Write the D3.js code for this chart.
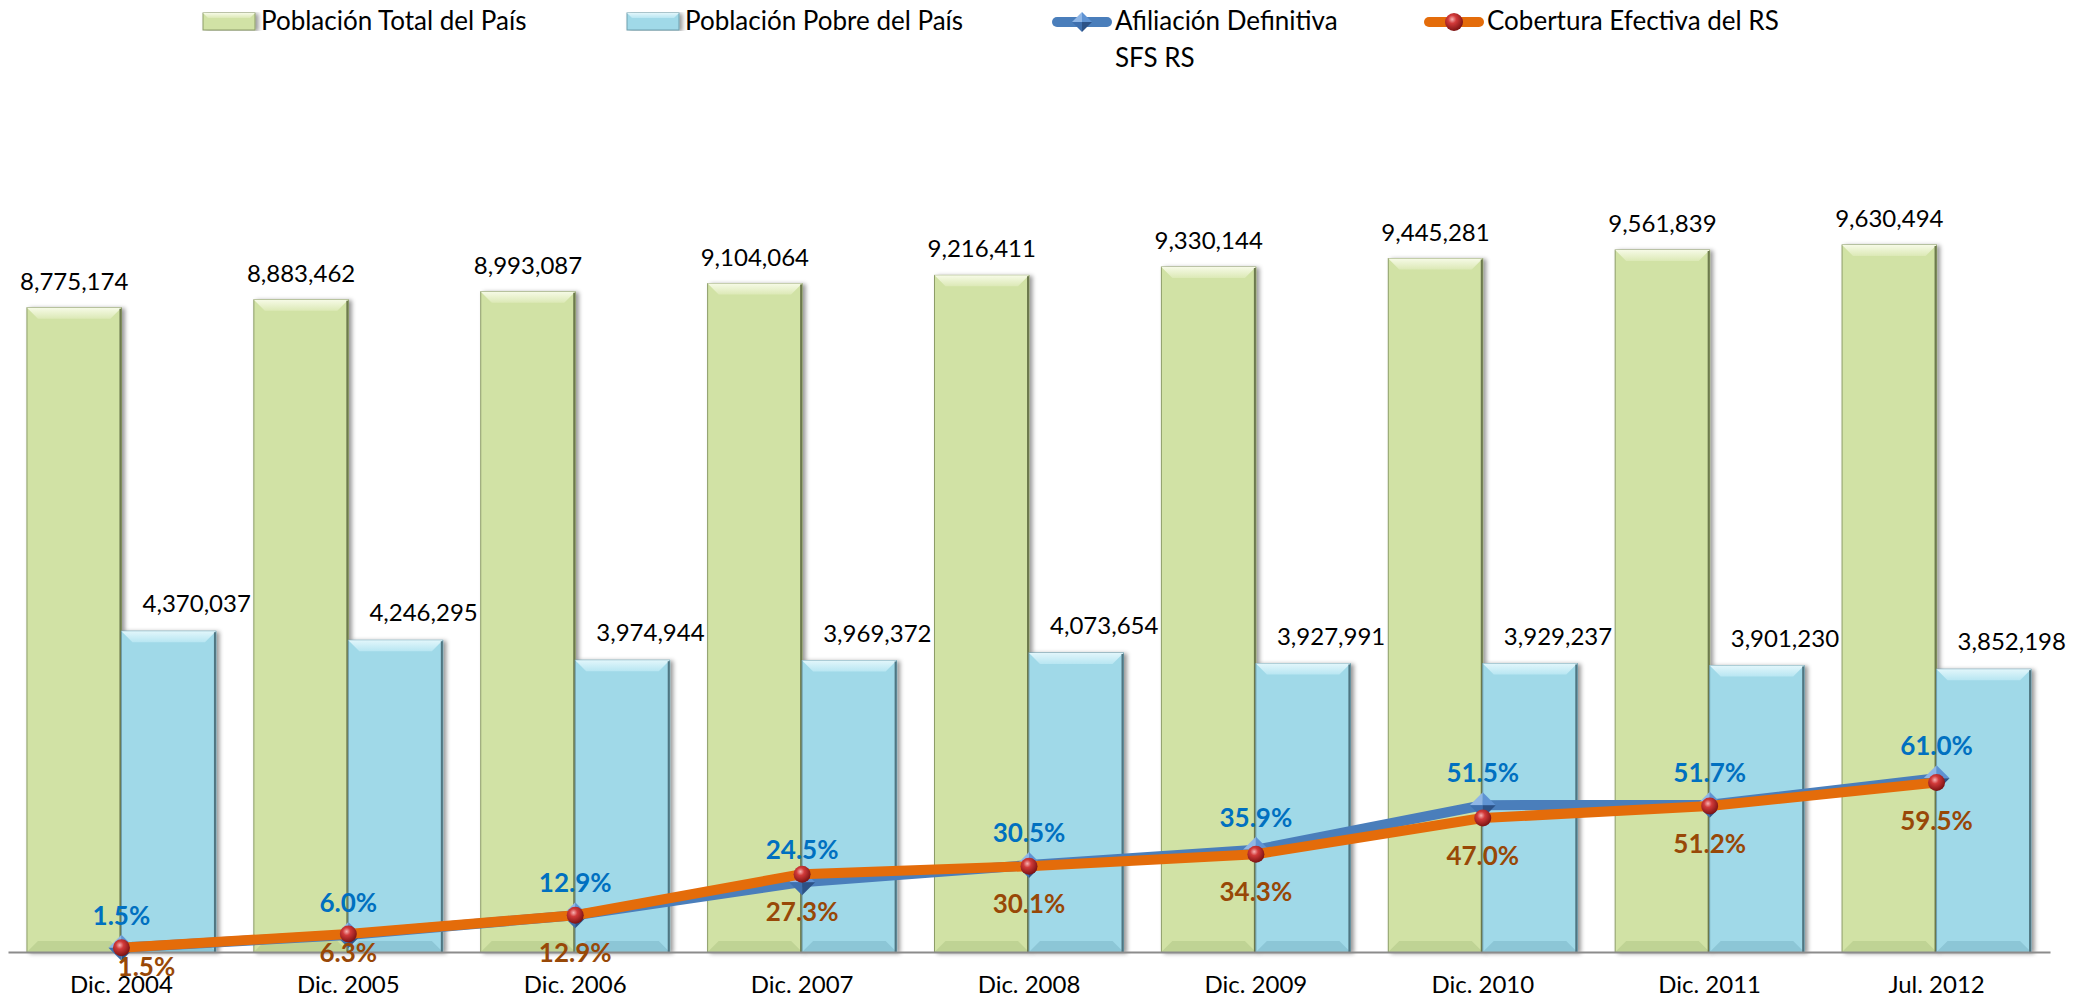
<!DOCTYPE html>
<meta charset="utf-8">
<style>
body { margin: 0; background: #fff; }
text { font-family: Lato, "Open Sans", sans-serif; }
.bar-label { font-size: 24px; fill: #000; }
.pct-label { font-size: 26px; font-weight: bold; }
.legend text { font-size: 26px; fill: #000; }
.x.axis text { font-size: 24px; fill: #000; }
.x.axis path { stroke: #8c8c8c; stroke-width: 2px; }
</style>
<body>
<script src="https://d3js.org/d3.v7.min.js"></script>
<script>

// data
var categories = ["Dic. 2004", "Dic. 2005", "Dic. 2006", "Dic. 2007", "Dic. 2008",
                  "Dic. 2009", "Dic. 2010", "Dic. 2011", "Jul. 2012"];
var poblacionTotal = [8775174, 8883462, 8993087, 9104064, 9216411, 9330144, 9445281, 9561839, 9630494];
var poblacionPobre = [4370037, 4246295, 3974944, 3969372, 4073654, 3927991, 3929237, 3901230, 3852198];
var afiliacion = [1.5, 6.0, 12.9, 24.5, 30.5, 35.9, 51.5, 51.7, 61.0];
var cobertura = [1.5, 6.3, 12.9, 27.3, 30.1, 34.3, 47.0, 51.2, 59.5];
var seriesNames = ["Población Total del País", "Población Pobre del País",
                   "Afiliación Definitiva SFS RS", "Cobertura Efectiva del RS"];

var width = 2085, height = 1003;
var baseY = 952;

var data = categories.map(function(c, i) {
  return {cat: c, total: poblacionTotal[i], pobre: poblacionPobre[i],
          afil: afiliacion[i], cob: cobertura[i]};
});

var x = d3.scaleBand().domain(categories).range([8, 2050])
    .paddingInner(0.167).paddingOuter(0.0835);
var x1 = d3.scaleBand().domain(["total", "pobre"]).range([0, x.bandwidth()]);
var y = d3.scaleLinear().domain([0, 12000000]).range([baseY, 71]);
var yPct = d3.scaleLinear().domain([0, 100]).range([baseY, 667]);
var fmt = d3.format(",");

var svg = d3.select("body").append("svg")
    .attr("width", width)
    .attr("height", height);

var defs = svg.append("defs");
var shadow = defs.append("filter").attr("id", "shadow")
    .attr("x", "-20%").attr("y", "-5%").attr("width", "140%").attr("height", "110%");
shadow.append("feDropShadow").attr("dx", 3).attr("dy", 1)
    .attr("stdDeviation", 2).attr("flood-color", "#000").attr("flood-opacity", 0.4);

function vGrad(id, stops) {
  var g = defs.append("linearGradient").attr("id", id)
      .attr("x1", 0).attr("y1", 0).attr("x2", 0).attr("y2", 1);
  stops.forEach(function(s) { g.append("stop").attr("offset", s[0]).attr("stop-color", s[1]); });
}
vGrad("topG", [[0, "#f6fae6"], [1, "#dce9b6"]]);
vGrad("topB", [[0, "#e2f6fb"], [1, "#b8e6f2"]]);

var barStyle = {
  total: {base: "#d1e2a5", top: "url(#topG)", bottom: "#bfd394", edge: "#8d9d68", right: "#6d7a4d"},
  pobre: {base: "#a0d9e8", top: "url(#topB)", bottom: "#8cc6d6", edge: "#6f9fae", right: "#4f7682"}
};

// sphere marker gradient
var sph = defs.append("radialGradient").attr("id", "sphere")
    .attr("cx", "40%").attr("cy", "35%").attr("r", "65%");
sph.append("stop").attr("offset", 0).attr("stop-color", "#f6b3b3");
sph.append("stop").attr("offset", 0.35).attr("stop-color", "#d23a3a");
sph.append("stop").attr("offset", 1).attr("stop-color", "#7d1313");

// bars
var groups = svg.selectAll(".grp")
    .data(data)
  .enter().append("g")
    .attr("class", "grp")
    .attr("transform", function(d) { return "translate(" + x(d.cat) + ",0)"; });

var b = 11;
["total", "pobre"].forEach(function(key) {
  var st = barStyle[key];
  var bar = groups.append("g").attr("filter", "url(#shadow)");
  bar.append("rect")
      .attr("x", x1(key))
      .attr("y", function(d) { return y(d[key]); })
      .attr("width", x1.bandwidth())
      .attr("height", function(d) { return baseY - y(d[key]); })
      .attr("fill", st.base)
      .attr("stroke", st.edge)
      .attr("stroke-width", 1);
  bar.append("polygon")
      .attr("fill", st.top)
      .attr("points", function(d) {
        var x0 = x1(key), xe = x0 + x1.bandwidth(), t = y(d[key]);
        return [[x0, t], [xe, t], [xe - b, t + b], [x0 + b, t + b]].join(" ");
      });
  bar.append("polygon")
      .attr("fill", st.bottom)
      .attr("points", function(d) {
        var x0 = x1(key), xe = x0 + x1.bandwidth();
        return [[x0, baseY], [xe, baseY], [xe - b, baseY - b], [x0 + b, baseY - b]].join(" ");
      });
  bar.append("line")
      .attr("x1", x1(key) + x1.bandwidth() - 1)
      .attr("x2", x1(key) + x1.bandwidth() - 1)
      .attr("y1", function(d) { return y(d[key]) + 1; })
      .attr("y2", baseY)
      .attr("stroke", st.right)
      .attr("stroke-width", 2);
});

// bar value labels
groups.append("text")
    .attr("class", "bar-label")
    .attr("text-anchor", "middle")
    .attr("x", x1("total") + x1.bandwidth() / 2)
    .attr("y", function(d) { return y(d.total) - 18; })
    .text(function(d) { return fmt(d.total); });
groups.append("text")
    .attr("class", "bar-label")
    .attr("text-anchor", "middle")
    .attr("x", x1("pobre") + x1.bandwidth() / 2 + 28)
    .attr("y", function(d) { return y(d.pobre) - 19; })
    .text(function(d) { return fmt(d.pobre); });

// x axis
var xAxis = d3.axisBottom(x).tickSize(0).tickSizeOuter(0).tickPadding(24);
svg.append("g")
    .attr("class", "x axis")
    .attr("transform", "translate(0," + baseY + ")")
    .call(xAxis);

// lines
var cx = function(d) { return x(d.cat) + x.bandwidth() / 2; };
var lineAfil = d3.line().x(cx).y(function(d) { return yPct(d.afil); });
var lineCob = d3.line().x(cx).y(function(d) { return yPct(d.cob); });

svg.append("path").datum(data)
    .attr("d", lineAfil)
    .attr("fill", "none")
    .attr("stroke", "#4a7ebb")
    .attr("stroke-width", 10)
    .attr("stroke-linejoin", "round");

function diamond(sel, s) {
  var facets = [
    {pts: [[0, -s], [-s, 0], [0, 0]], fill: "#8fb6e6"},
    {pts: [[0, -s], [s, 0], [0, 0]], fill: "#5f93d3"},
    {pts: [[-s, 0], [0, s], [0, 0]], fill: "#3e6fae"},
    {pts: [[s, 0], [0, s], [0, 0]], fill: "#2c5287"}
  ];
  facets.forEach(function(f) {
    sel.append("polygon").attr("points", f.pts.join(" ")).attr("fill", f.fill);
  });
}

var diamonds = svg.selectAll(".dia")
    .data(data)
  .enter().append("g")
    .attr("class", "dia")
    .attr("transform", function(d) { return "translate(" + cx(d) + "," + yPct(d.afil) + ")"; });
diamond(diamonds, 13);

svg.append("path").datum(data)
    .attr("d", lineCob)
    .attr("fill", "none")
    .attr("stroke", "#e46c0a")
    .attr("stroke-width", 10)
    .attr("stroke-linejoin", "round");

svg.selectAll(".sph")
    .data(data)
  .enter().append("circle")
    .attr("class", "sph")
    .attr("cx", cx)
    .attr("cy", function(d) { return yPct(d.cob); })
    .attr("r", 8.5)
    .attr("fill", "url(#sphere)");

// percent labels
svg.selectAll(".lab-afil")
    .data(data)
  .enter().append("text")
    .attr("class", "pct-label")
    .attr("text-anchor", "middle")
    .attr("fill", "#0070c0")
    .attr("x", cx)
    .attr("y", function(d) { return yPct(d.afil) - 32; })
    .attr("dy", "0.35em")
    .text(function(d) { return d.afil.toFixed(1) + "%"; });

// labels close to the axis sit a bit higher, like in the original
svg.selectAll(".lab-cob")
    .data(data)
  .enter().append("text")
    .attr("class", "pct-label")
    .attr("text-anchor", "middle")
    .attr("fill", "#984807")
    .attr("x", function(d, i) { return cx(d) + (i === 0 ? 25 : 0); })
    .attr("y", function(d) {
      var py = yPct(d.cob);
      return py + (baseY - py < 25 ? 19 : 38);
    })
    .attr("dy", "0.35em")
    .text(function(d) { return d.cob.toFixed(1) + "%"; });

// legend
var legend = svg.append("g").attr("class", "legend");

function legendRect(x0, st, name) {
  var g = legend.append("g").attr("filter", "url(#shadow)");
  g.append("rect").attr("x", x0).attr("y", 13).attr("width", 52).attr("height", 17)
      .attr("fill", st.base).attr("stroke", st.edge);
  g.append("polygon").attr("fill", st.top)
      .attr("points", [[x0, 13], [x0 + 52, 13], [x0 + 47, 18], [x0 + 5, 18]].join(" "));
  legend.append("text").attr("x", x0 + 58).attr("y", 30).text(name);
}
legendRect(203, barStyle.total, seriesNames[0]);
legendRect(627, barStyle.pobre, seriesNames[1]);

legend.append("line").attr("x1", 1057).attr("x2", 1107).attr("y1", 22).attr("y2", 22)
    .attr("stroke", "#4a7ebb").attr("stroke-width", 10).attr("stroke-linecap", "round");
var ld = legend.append("g").attr("transform", "translate(1082,22)");
diamond(ld, 10);
var t3 = legend.append("text").attr("x", 1115).attr("y", 30);
t3.append("tspan").text("Afiliación Definitiva");
t3.append("tspan").attr("x", 1115).attr("y", 67).text("SFS RS");

legend.append("line").attr("x1", 1429).attr("x2", 1479).attr("y1", 22).attr("y2", 22)
    .attr("stroke", "#e46c0a").attr("stroke-width", 10).attr("stroke-linecap", "round");
legend.append("circle").attr("cx", 1454).attr("cy", 22).attr("r", 9).attr("fill", "url(#sphere)");
legend.append("text").attr("x", 1487).attr("y", 30).text(seriesNames[3]);

</script>
</body>
